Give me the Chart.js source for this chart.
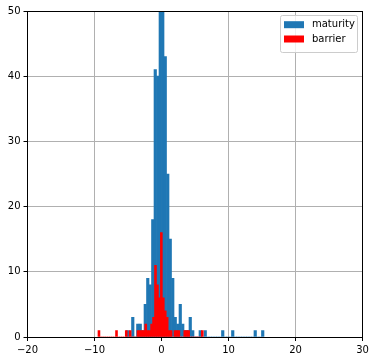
<!DOCTYPE html>
<html>
<head>
<meta charset="utf-8">
<script src="https://cdn.jsdelivr.net/npm/chart.js@4"></script>
<style>
    html, body { margin: 0; padding: 0; background: #fff; }
</style>
</head>
<body>
<canvas id="histChart" width="375" height="361"></canvas>
<script>
// histogram bins
const maturityStart = -5.22;
const maturityBinWidth = 0.373;
const maturityCounts = [1, 0, 3, 0, 2, 2, 1, 5, 9, 8, 18, 41, 40, 62, 56, 43, 25, 15, 9, 3,
    2, 5, 2, 1, 1, 3, 1, 0, 0, 1, 0, 1, 0, 0, 0, 0, 0, 0, 1, 0,
    0, 0, 1, 0, 0, 0, 0, 0, 0, 0, 0, 1, 0, 0, 1];

const barrierStart = -9.48;
const barrierBinWidth = 0.291;
const barrierCounts = [1, 0, 0, 0, 0, 0, 0, 0, 0, 1, 0, 0, 0, 0, 1, 0, 1, 0, 0, 0,
    1, 1, 1, 1, 2, 1, 1, 2, 3, 11, 8, 6, 16, 6, 4, 3, 1, 1, 0, 1,
    1, 1, 0, 0, 1, 1, 1, 0, 0, 0, 0, 0, 0, 1];

const xTicks = [-20, -10, 0, 10, 20, 30];
const yTicks = [0, 10, 20, 30, 40, 50];

function binPoints(start, width, counts) {
    return counts.map((c, i) => ({ x: start + (i + 0.5) * width, y: c }));
}

const fontSpec = { family: 'DejaVu Sans', size: 10 };

// spines + matplotlib style legend
const frameLegend = {
    id: 'frameLegend',
    afterDraw(chart) {
        const ctx = chart.ctx;
        const a = chart.chartArea;
        ctx.save();
        ctx.strokeStyle = '#000';
        ctx.lineWidth = 1;
        ctx.strokeRect(a.left, a.top + 0.5, a.right - a.left, a.bottom - a.top);

        const lx = 280.5, ly = 15.5, lw = 77, lh = 37;
        ctx.beginPath();
        ctx.roundRect(lx, ly, lw, lh, 2);
        ctx.fillStyle = 'rgba(255,255,255,0.8)';
        ctx.fill();
        ctx.strokeStyle = '#cccccc';
        ctx.stroke();

        ctx.font = '10px "DejaVu Sans"';
        ctx.textBaseline = 'middle';
        chart.data.datasets.forEach((ds, i) => {
            const cy = 24.7 + i * 14.3;
            ctx.fillStyle = ds.backgroundColor;
            ctx.fillRect(284, cy - 3.5, 20, 7);
            ctx.fillStyle = '#000';
            ctx.fillText(ds.label, 312, cy);
        });
        ctx.restore();
    }
};

const canvas = document.getElementById('histChart');
const chart = new Chart(canvas, {
    type: 'bar',
    data: {
        datasets: [{
            label: 'maturity',
            data: binPoints(maturityStart, maturityBinWidth, maturityCounts),
            backgroundColor: '#1f77b4',
            borderWidth: 0,
            grouped: false,
            order: 2
        }, {
            label: 'barrier',
            data: binPoints(barrierStart, barrierBinWidth, barrierCounts),
            backgroundColor: '#ff0000',
            borderWidth: 0,
            grouped: false,
            order: 1
        }]
    },
    options: {
        responsive: false,
        animation: false,
        layout: { padding: { top: 11, right: 12.5, left: 0, bottom: 0 } },
        plugins: {
            legend: { display: false },
            tooltip: { enabled: false }
        },
        scales: {
            x: {
                type: 'linear',
                min: -20,
                max: 30,
                offset: false,
                z: 1,
                afterBuildTicks: (s) => { s.ticks = xTicks.map(v => ({ value: v })); },
                afterFit: (s) => { s.height = 24; s.paddingLeft = 0; s.paddingRight = 0; },
                grid: { offset: false, color: '#b0b0b0', lineWidth: 1, tickColor: '#000', tickLength: 4, tickWidth: 1 },
                border: { display: false },
                ticks: {
                    color: '#000',
                    font: fontSpec,
                    padding: 3,
                    maxRotation: 0,
                    callback: (v) => v < 0 ? '\u2212' + Math.abs(v) : String(v)
                }
            },
            y: {
                min: 0,
                max: 50,
                z: 1,
                afterBuildTicks: (s) => { s.ticks = yTicks.map(v => ({ value: v })); },
                afterFit: (s) => { s.width = 27.5; s.paddingTop = 0; s.paddingBottom = 0; },
                grid: { color: '#b0b0b0', lineWidth: 1, tickColor: '#000', tickLength: 4, tickWidth: 1 },
                border: { display: false },
                ticks: { color: '#000', font: fontSpec, padding: 3 }
            }
        }
    },
    plugins: [frameLegend]
});

// bar widths = bin widths, measured on the x scale
const xs = chart.scales.x;
chart.data.datasets[0].barThickness = xs.getPixelForValue(maturityBinWidth) - xs.getPixelForValue(0);
chart.data.datasets[1].barThickness = xs.getPixelForValue(barrierBinWidth) - xs.getPixelForValue(0);
chart.update('none');
</script>
</body>
</html>
